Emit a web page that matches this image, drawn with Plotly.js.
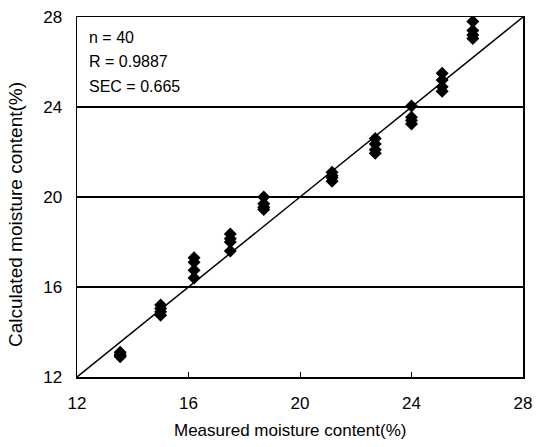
<!DOCTYPE html>
<html>
<head>
<meta charset="utf-8">
<script src="https://cdn.plot.ly/plotly-3.0.1.min.js"></script>
<style>html,body{margin:0;padding:0;background:#fff;}#chart{width:537px;height:447px;}</style>
</head>
<body>
<div id="chart"></div>
<script>
// Measured vs calculated moisture content (%), 40 samples
const measured = [
  13.55, 13.55, 13.55, 13.55,
  15.0, 15.0, 15.0, 15.0,
  16.2, 16.2, 16.2, 16.2,
  17.5, 17.5, 17.5, 17.5,
  18.7, 18.7, 18.7, 18.7,
  21.15, 21.15, 21.15, 21.15,
  22.7, 22.7, 22.7, 22.7,
  24.0, 24.0, 24.0, 24.0,
  25.1, 25.1, 25.1, 25.1,
  26.2, 26.2, 26.2, 26.2
];
const calculated = [
  13.1, 13.0, 12.95, 12.9,
  15.2, 15.05, 14.9, 14.75,
  17.3, 17.1, 16.75, 16.4,
  18.35, 18.15, 18.0, 17.6,
  20.0, 19.7, 19.55, 19.45,
  21.1, 20.95, 20.85, 20.7,
  22.6, 22.35, 22.1, 21.95,
  24.05, 23.55, 23.4, 23.25,
  25.5, 25.2, 24.9, 24.7,
  27.8, 27.4, 27.2, 27.05
];
const oneToOneX = [12, 28];
const oneToOneY = [12, 28];
const tickVals = [12, 16, 20, 24, 28];
const tickText = ["12", "16", "20", "24", "28"];
const statLines = ["n = 40", "R = 0.9887", "SEC = 0.665"];
const xTitle = "Measured moisture content(%)";
const yTitle = "Calculated moisture content(%)";

const font = "Liberation Sans, Arial, sans-serif";

const traces = [
  {
    x: oneToOneX, y: oneToOneY, mode: "lines", type: "scatter",
    line: {color: "#000", width: 1.5}, hoverinfo: "skip", showlegend: false
  },
  {
    x: measured, y: calculated, mode: "markers", type: "scatter",
    marker: {symbol: "diamond", size: 10, color: "#000"}, showlegend: false
  }
];

const statY = [0.942, 0.877, 0.808];
const annotations = statLines.map((t, i) => ({
  text: t, xref: "paper", yref: "paper", x: 0.022, y: statY[i],
  xanchor: "left", yanchor: "middle", showarrow: false,
  font: {family: font, size: 16, color: "#000"}
}));
annotations.push({
  text: xTitle, xref: "paper", yref: "paper", x: 0.478, y: -0.15,
  xanchor: "center", yanchor: "middle", showarrow: false,
  font: {family: font, size: 17, color: "#000"}
});
annotations.push({
  text: yTitle, xref: "paper", yref: "paper", x: -0.139, y: 0.45,
  xanchor: "center", yanchor: "middle", showarrow: false, textangle: -90,
  font: {family: font, size: 19, color: "#000"}
});

const layout = {
  width: 537, height: 447,
  margin: {l: 77, r: 14, t: 17, b: 70},
  paper_bgcolor: "#fff", plot_bgcolor: "#fff",
  font: {family: font, size: 16, color: "#000"},
  xaxis: {
    range: [12, 28], tickvals: tickVals, ticktext: tickText,
    showgrid: false, zeroline: false,
    showline: true, linecolor: "#000", linewidth: 1.5, mirror: true,
    ticks: "inside", ticklen: 5, tickcolor: "#000",
    ticklabelstandoff: 10,
    tickfont: {family: font, size: 17, color: "#000"}
  },
  yaxis: {
    range: [12, 28], tickvals: tickVals, ticktext: tickText,
    showgrid: true, gridcolor: "#000", gridwidth: 1.5, zeroline: false,
    showline: true, linecolor: "#000", linewidth: 1.5, mirror: true,
    ticks: "inside", ticklen: 5, tickcolor: "#000",
    ticklabelstandoff: 10,
    tickfont: {family: font, size: 17, color: "#000"}
  },
  annotations: annotations,
  showlegend: false
};

Plotly.newPlot("chart", traces, layout, {displayModeBar: false, staticPlot: true});
</script>
</body>
</html>
